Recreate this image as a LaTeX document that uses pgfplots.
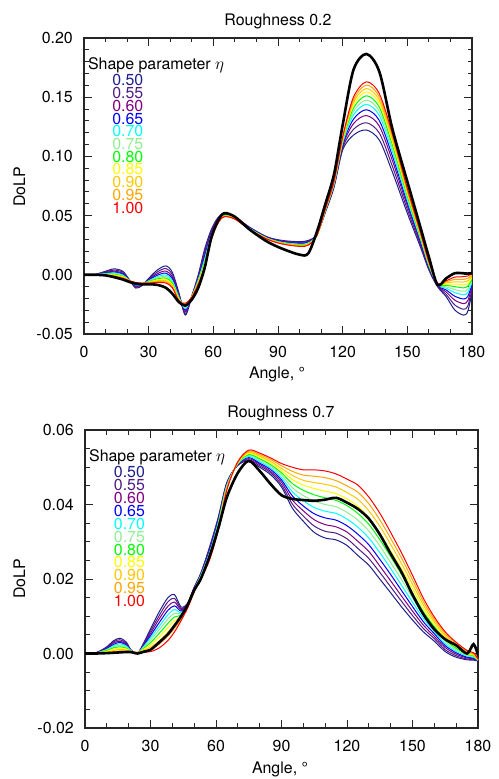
\documentclass[border=0pt]{standalone}
\usepackage{fontspec}
\setmainfont{TeX Gyre Heros}
\usepackage{pgfplots}
\usepackage{pgfplotstable}
\pgfplotsset{compat=1.18}

% eta colours
\definecolor{e50}{RGB}{30,30,140}
\definecolor{e55}{RGB}{80,30,130}
\definecolor{e60}{RGB}{128,0,128}
\definecolor{e65}{RGB}{0,0,255}
\definecolor{e70}{RGB}{0,255,255}
\definecolor{e75}{RGB}{144,238,144}
\definecolor{e80}{RGB}{0,255,0}
\definecolor{e85}{RGB}{255,255,0}
\definecolor{e90}{RGB}{255,200,0}
\definecolor{e95}{RGB}{255,165,0}
\definecolor{e100}{RGB}{255,0,0}

% roughness 0.2
\pgfplotstableread{
a n50 n55 n60 n65 n70 n75 n80 n85 n90 n95 n100 blk
0 0 0 0 0 0 0 0 0 0 0 0 0
5 0.0003 0.0003 0.0002 0.0002 0.0001 0.0001 0.0001 0.0001 0.0000 0.0000 0.0000 0.0000
10 0.0030 0.0025 0.0019 0.0015 0.0011 0.0008 0.0005 0.0002 0.0000 -0.0003 -0.0005 -0.0005
14 0.0050 0.0040 0.0031 0.0023 0.0016 0.0010 0.0004 -0.0001 -0.0006 -0.0010 -0.0015 -0.0020
18 0.0030 0.0021 0.0012 0.0005 -0.0002 -0.0007 -0.0013 -0.0017 -0.0022 -0.0026 -0.0030 -0.0040
21 -0.0040 -0.0042 -0.0043 -0.0044 -0.0045 -0.0046 -0.0047 -0.0048 -0.0049 -0.0049 -0.0050 -0.0060
24 -0.0112 -0.0105 -0.0098 -0.0092 -0.0087 -0.0083 -0.0079 -0.0075 -0.0072 -0.0068 -0.0065 -0.0075
27 -0.0090 -0.0087 -0.0084 -0.0082 -0.0079 -0.0078 -0.0076 -0.0074 -0.0073 -0.0071 -0.0070 -0.0080
30 -0.0030 -0.0036 -0.0042 -0.0047 -0.0051 -0.0055 -0.0058 -0.0062 -0.0064 -0.0067 -0.0070 -0.0080
34 0.0040 0.0024 0.0009 -0.0004 -0.0016 -0.0025 -0.0035 -0.0043 -0.0050 -0.0058 -0.0065 -0.0085
38 0.0075 0.0053 0.0032 0.0014 -0.0002 -0.0015 -0.0028 -0.0040 -0.0050 -0.0060 -0.0070 -0.0110
41 0.0020 0.0001 -0.0019 -0.0035 -0.0049 -0.0061 -0.0072 -0.0083 -0.0092 -0.0101 -0.0110 -0.0160
44 -0.0150 -0.0161 -0.0171 -0.0179 -0.0187 -0.0193 -0.0200 -0.0205 -0.0210 -0.0215 -0.0220 -0.0230
47 -0.0340 -0.0325 -0.0310 -0.0298 -0.0287 -0.0278 -0.0269 -0.0261 -0.0254 -0.0247 -0.0240 -0.0260
50 -0.0180 -0.0182 -0.0183 -0.0184 -0.0185 -0.0186 -0.0187 -0.0188 -0.0189 -0.0189 -0.0190 -0.0210
53 0.0000 -0.0012 -0.0024 -0.0034 -0.0042 -0.0050 -0.0057 -0.0063 -0.0069 -0.0074 -0.0080 -0.0110
56 0.0220 0.0196 0.0172 0.0153 0.0135 0.0121 0.0106 0.0094 0.0082 0.0071 0.0060 0.0060
59 0.0380 0.0367 0.0353 0.0342 0.0332 0.0324 0.0316 0.0309 0.0303 0.0296 0.0290 0.0310
62 0.0480 0.0473 0.0465 0.0459 0.0454 0.0449 0.0445 0.0441 0.0437 0.0434 0.0430 0.0450
65 0.0520 0.0516 0.0511 0.0507 0.0504 0.0501 0.0499 0.0496 0.0494 0.0492 0.0490 0.0520
70 0.0490 0.0487 0.0484 0.0482 0.0479 0.0478 0.0476 0.0474 0.0473 0.0471 0.0470 0.0490
77 0.0400 0.0397 0.0394 0.0392 0.0389 0.0388 0.0386 0.0384 0.0383 0.0381 0.0380 0.0380
85 0.0320 0.0317 0.0314 0.0312 0.0309 0.0308 0.0306 0.0304 0.0303 0.0301 0.0300 0.0280
92 0.0290 0.0286 0.0281 0.0277 0.0274 0.0271 0.0269 0.0266 0.0264 0.0262 0.0260 0.0220
100 0.0280 0.0274 0.0268 0.0263 0.0259 0.0255 0.0252 0.0248 0.0246 0.0243 0.0240 0.0170
104 0.0290 0.0284 0.0278 0.0273 0.0269 0.0265 0.0262 0.0258 0.0256 0.0253 0.0250 0.0180
108 0.0340 0.0338 0.0337 0.0336 0.0335 0.0334 0.0333 0.0332 0.0331 0.0331 0.0330 0.0360
112 0.0530 0.0535 0.0539 0.0543 0.0546 0.0549 0.0551 0.0554 0.0556 0.0558 0.0560 0.0600
116 0.0740 0.0748 0.0755 0.0761 0.0767 0.0771 0.0776 0.0780 0.0783 0.0787 0.0790 0.0850
120 0.1054 0.1071 0.1088 0.1101 0.1113 0.1123 0.1134 0.1142 0.1150 0.1158 0.1166 0.1265
125 0.1180 0.1228 0.1276 0.1314 0.1350 0.1378 0.1407 0.1433 0.1455 0.1478 0.1500 0.1730
131 0.1223 0.1284 0.1345 0.1394 0.1439 0.1475 0.1512 0.1545 0.1573 0.1602 0.1630 0.1865
137 0.1138 0.1197 0.1256 0.1303 0.1346 0.1381 0.1416 0.1448 0.1475 0.1503 0.1530 0.1716
143 0.0871 0.0920 0.0968 0.1007 0.1043 0.1072 0.1101 0.1127 0.1150 0.1172 0.1195 0.1237
150 0.0520 0.0552 0.0583 0.0608 0.0631 0.0650 0.0669 0.0686 0.0701 0.0715 0.0730 0.0787
156 0.0238 0.0257 0.0276 0.0291 0.0305 0.0316 0.0328 0.0338 0.0346 0.0355 0.0364 0.0406
160 0.0040 0.0051 0.0061 0.0069 0.0077 0.0083 0.0090 0.0095 0.0100 0.0105 0.0110 0.0150
164 -0.0100 -0.0096 -0.0091 -0.0087 -0.0084 -0.0081 -0.0079 -0.0076 -0.0074 -0.0072 -0.0070 -0.0085
168 -0.0185 -0.0165 -0.0145 -0.0128 -0.0113 -0.0101 -0.0089 -0.0078 -0.0069 -0.0059 -0.0050 -0.0030
172 -0.0297 -0.0255 -0.0214 -0.0181 -0.0150 -0.0125 -0.0100 -0.0078 -0.0059 -0.0039 -0.0020 0.0013
176 -0.0340 -0.0291 -0.0243 -0.0204 -0.0168 -0.0139 -0.0110 -0.0084 -0.0061 -0.0039 -0.0016 0.0013
178 -0.0310 -0.0265 -0.0220 -0.0184 -0.0151 -0.0124 -0.0097 -0.0073 -0.0052 -0.0031 -0.0010 0.0010
180 -0.0150 -0.0126 -0.0102 -0.0083 -0.0065 -0.0051 -0.0036 -0.0024 -0.0012 -0.0001 0.0010 0.0015
}\rougha

% roughness 0.7
\pgfplotstableread{
a n50 n55 n60 n65 n70 n75 n80 n85 n90 n95 n100 blk
0 0 0 0 0 0 0 0 0 0 0 0 0
5 0.0002 0.0002 0.0002 0.0001 0.0001 0.0001 0.0001 0.0001 0.0000 0.0000 0.0000 0.0000
10 0.0018 0.0016 0.0015 0.0013 0.0011 0.0010 0.0008 0.0006 0.0004 0.0003 0.0001 0.0001
13 0.0034 0.0031 0.0028 0.0024 0.0021 0.0018 0.0015 0.0012 0.0008 0.0005 0.0002 0.0002
16 0.0041 0.0037 0.0033 0.0030 0.0026 0.0022 0.0018 0.0014 0.0011 0.0007 0.0003 0.0003
19 0.0030 0.0027 0.0025 0.0022 0.0020 0.0017 0.0014 0.0012 0.0009 0.0007 0.0004 0.0004
21 0.0010 0.0009 0.0009 0.0008 0.0008 0.0007 0.0006 0.0006 0.0005 0.0005 0.0004 0.0004
24 0.0000 0.0000 0.0001 0.0001 0.0001 0.0002 0.0002 0.0002 0.0002 0.0003 0.0003 0.0000
27 0.0030 0.0027 0.0025 0.0022 0.0020 0.0017 0.0014 0.0012 0.0009 0.0007 0.0004 0.0005
30 0.0066 0.0060 0.0054 0.0048 0.0042 0.0036 0.0029 0.0023 0.0017 0.0011 0.0005 0.0010
34 0.0112 0.0102 0.0093 0.0083 0.0073 0.0064 0.0054 0.0044 0.0034 0.0025 0.0015 0.0030
38 0.0150 0.0139 0.0127 0.0116 0.0104 0.0093 0.0081 0.0070 0.0058 0.0047 0.0035 0.0052
41 0.0158 0.0148 0.0138 0.0128 0.0118 0.0108 0.0098 0.0088 0.0078 0.0068 0.0058 0.0075
44 0.0125 0.0121 0.0118 0.0114 0.0110 0.0107 0.0103 0.0099 0.0095 0.0092 0.0088 0.0100
47 0.0135 0.0134 0.0132 0.0131 0.0130 0.0129 0.0127 0.0126 0.0125 0.0123 0.0122 0.0130
50 0.0178 0.0177 0.0175 0.0174 0.0173 0.0172 0.0170 0.0169 0.0168 0.0166 0.0165 0.0170
53 0.0215 0.0214 0.0212 0.0211 0.0209 0.0208 0.0206 0.0205 0.0203 0.0202 0.0200 0.0200
57 0.0285 0.0282 0.0278 0.0275 0.0271 0.0268 0.0264 0.0261 0.0257 0.0254 0.0250 0.0260
61 0.0365 0.0362 0.0358 0.0355 0.0351 0.0348 0.0344 0.0341 0.0337 0.0334 0.0330 0.0335
65 0.0460 0.0458 0.0456 0.0454 0.0452 0.0450 0.0448 0.0446 0.0444 0.0442 0.0440 0.0420
70 0.0505 0.0506 0.0507 0.0508 0.0509 0.0510 0.0511 0.0512 0.0513 0.0514 0.0515 0.0485
75 0.0517 0.0520 0.0523 0.0526 0.0529 0.0532 0.0534 0.0537 0.0540 0.0543 0.0546 0.0517
80 0.0500 0.0504 0.0508 0.0511 0.0515 0.0519 0.0523 0.0527 0.0530 0.0534 0.0538 0.0490
85 0.0480 0.0485 0.0489 0.0494 0.0498 0.0503 0.0507 0.0512 0.0516 0.0521 0.0525 0.0455
90 0.0447 0.0453 0.0460 0.0466 0.0472 0.0479 0.0485 0.0491 0.0497 0.0504 0.0510 0.0425
95 0.0390 0.0401 0.0412 0.0423 0.0434 0.0445 0.0456 0.0467 0.0478 0.0489 0.0500 0.0415
100 0.0355 0.0369 0.0383 0.0396 0.0410 0.0424 0.0438 0.0452 0.0465 0.0479 0.0493 0.0412
105 0.0325 0.0342 0.0359 0.0375 0.0392 0.0409 0.0426 0.0443 0.0459 0.0476 0.0493 0.0410
110 0.0310 0.0328 0.0346 0.0364 0.0382 0.0400 0.0418 0.0436 0.0454 0.0472 0.0490 0.0413
115 0.0305 0.0323 0.0340 0.0358 0.0376 0.0394 0.0411 0.0429 0.0447 0.0464 0.0482 0.0418
120 0.0290 0.0308 0.0326 0.0343 0.0361 0.0379 0.0397 0.0415 0.0432 0.0450 0.0468 0.0405
125 0.0263 0.0282 0.0301 0.0320 0.0339 0.0358 0.0376 0.0395 0.0414 0.0433 0.0452 0.0388
130 0.0237 0.0255 0.0274 0.0292 0.0310 0.0329 0.0347 0.0365 0.0383 0.0402 0.0420 0.0362
135 0.0200 0.0218 0.0235 0.0253 0.0271 0.0289 0.0306 0.0324 0.0342 0.0359 0.0377 0.0320
140 0.0163 0.0179 0.0195 0.0212 0.0228 0.0244 0.0260 0.0276 0.0293 0.0309 0.0325 0.0268
145 0.0125 0.0140 0.0154 0.0169 0.0183 0.0198 0.0212 0.0227 0.0241 0.0256 0.0270 0.0218
150 0.0090 0.0102 0.0114 0.0126 0.0138 0.0150 0.0162 0.0174 0.0186 0.0198 0.0210 0.0158
155 0.0058 0.0067 0.0076 0.0085 0.0094 0.0103 0.0112 0.0121 0.0130 0.0139 0.0148 0.0105
160 0.0033 0.0040 0.0046 0.0053 0.0059 0.0066 0.0072 0.0079 0.0085 0.0092 0.0098 0.0065
165 0.0005 0.0010 0.0016 0.0021 0.0026 0.0032 0.0037 0.0042 0.0047 0.0053 0.0058 0.0038
170 -0.0010 -0.0006 -0.0002 0.0002 0.0006 0.0010 0.0014 0.0018 0.0022 0.0026 0.0030 0.0022
175 -0.0017 -0.0015 -0.0012 -0.0010 -0.0007 -0.0005 -0.0002 0.0000 0.0003 0.0006 0.0008 0.0000
178 -0.0018 -0.0016 -0.0014 -0.0012 -0.0010 -0.0008 -0.0006 -0.0004 -0.0002 0.0000 0.0002 0.0025
180 -0.0020 -0.0020 -0.0019 -0.0019 -0.0018 -0.0018 -0.0017 -0.0017 -0.0016 -0.0016 -0.0015 -0.0005
}\roughb

\pgfplotsset{
  dolp/.style={
    scale only axis,
    xmin=0, xmax=180,
    xtick={0,30,...,180},
    minor x tick num=2,
    scaled y ticks=false,
    tick align=inside,
    major tick length=8bp,
    minor tick length=4.5bp,
    axis line style={line width=1.2bp, black!85},
    every tick/.style={line width=1bp, black!85},
    tick label style={font=\fontsize{16}{19}\selectfont},
    /pgf/number format/assume math mode=true,
    xticklabel style={inner sep=0pt, yshift=-12bp},
    yticklabel style={inner sep=0pt, xshift=-11bp,
      /pgf/number format/fixed,
      /pgf/number format/fixed zerofill,
      /pgf/number format/precision=2},
    every axis plot/.append style={line width=1bp, smooth},
  },
  blk/.style={black, line width=2.6bp, smooth},
}

\newcommand{\etacurves}[1]{%
  \addplot[e50] table[x=a, y=n50] {#1};
  \addplot[e55] table[x=a, y=n55] {#1};
  \addplot[e60] table[x=a, y=n60] {#1};
  \addplot[e65] table[x=a, y=n65] {#1};
  \addplot[e70] table[x=a, y=n70] {#1};
  \addplot[e75] table[x=a, y=n75] {#1};
  \addplot[e80] table[x=a, y=n80] {#1};
  \addplot[e85] table[x=a, y=n85] {#1};
  \addplot[e90] table[x=a, y=n90] {#1};
  \addplot[e95] table[x=a, y=n95] {#1};
  \addplot[e100] table[x=a, y=n100] {#1};
  \addplot[blk] table[x=a, y=blk] {#1};
}

\newcommand{\etalegend}{%
  \node[anchor=base west, inner sep=0pt] at (axis description cs:0.010,0.893) {Shape parameter $\eta$};
  \begin{scope}[every node/.style={inner sep=0pt}]
  \node[text=e50] at (axis description cs:0.113,0.858) {0.50};
  \node[text=e55] at (axis description cs:0.113,0.815) {0.55};
  \node[text=e60] at (axis description cs:0.113,0.772) {0.60};
  \node[text=e65] at (axis description cs:0.113,0.728) {0.65};
  \node[text=e70] at (axis description cs:0.113,0.685) {0.70};
  \node[text=e75] at (axis description cs:0.113,0.642) {0.75};
  \node[text=e80] at (axis description cs:0.113,0.599) {0.80};
  \node[text=e85] at (axis description cs:0.113,0.556) {0.85};
  \node[text=e90] at (axis description cs:0.113,0.512) {0.90};
  \node[text=e95] at (axis description cs:0.113,0.469) {0.95};
  \node[text=e100] at (axis description cs:0.113,0.426) {1.00};
  \end{scope}
}

\begin{document}
\begin{tikzpicture}[font=\fontsize{16}{19}\selectfont]
\useasboundingbox (0,0) rectangle (499bp,779bp);

\begin{axis}[dolp,
  at={(84bp,445bp)}, anchor=south west,
  width=388bp, height=296bp,
  ymin=-0.05, ymax=0.20,
  ytick={-0.05,0,0.05,0.10,0.15,0.20},
  minor y tick num=4]
\etacurves{\rougha}
\etalegend
\end{axis}
\node[anchor=base] at (278bp,753bp) {Roughness 0.2};
\node[anchor=base] at (277bp,400bp) {Angle, °};
\node[anchor=base, rotate=90] at (25bp,592bp) {DoLP};

\begin{axis}[dolp,
  at={(85bp,51bp)}, anchor=south west,
  width=393bp, height=298bp,
  ymin=-0.02, ymax=0.06,
  ytick={-0.02,0,0.02,0.04,0.06},
  minor y tick num=3]
\etacurves{\roughb}
\etalegend
\end{axis}
\node[anchor=base] at (281bp,361bp) {Roughness 0.7};
\node[anchor=base] at (280bp,6bp) {Angle, °};
\node[anchor=base, rotate=90] at (25bp,200bp) {DoLP};
\end{tikzpicture}
\end{document}
